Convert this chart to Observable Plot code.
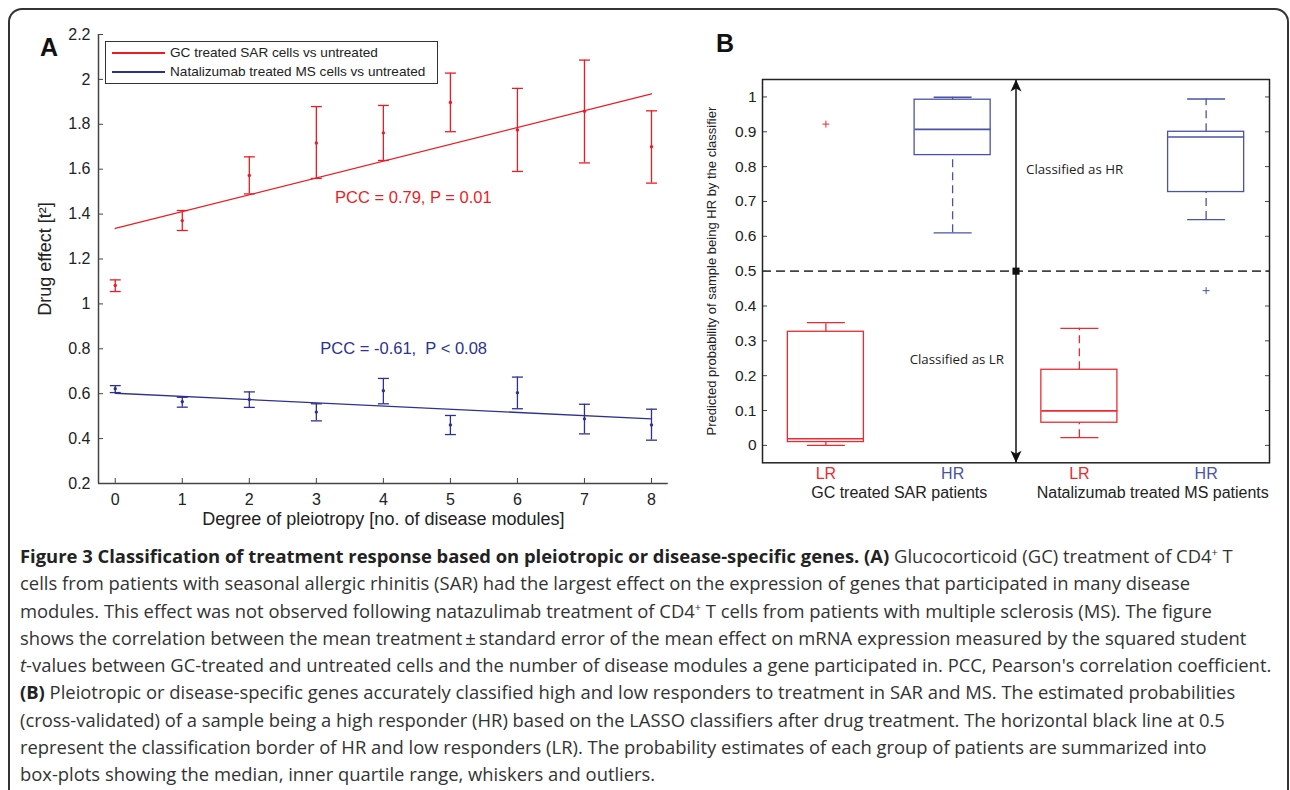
<!DOCTYPE html>
<html><head><meta charset="utf-8">
<script src="https://cdn.jsdelivr.net/npm/d3@7"></script>
<script src="https://cdn.jsdelivr.net/npm/@observablehq/plot@0.6"></script>
<style>
html,body{margin:0;padding:0;background:#fff;width:1290px;height:790px;overflow:hidden;position:relative;}
#frame{position:absolute;left:8px;top:8px;width:1281px;height:900px;border:2px solid #333;border-radius:14px;box-sizing:border-box;z-index:10;pointer-events:none;}
#panelA{position:absolute;left:0;top:0;}
#panelB{position:absolute;left:690px;top:0;}
.plabel{position:absolute;font-family:"Liberation Sans",Arial,sans-serif;font-weight:bold;font-size:25px;color:#111;line-height:1;}
#legend{position:absolute;left:105px;top:41px;width:333px;height:43px;border:1.5px solid #333;background:#fff;box-sizing:border-box;font-family:"Liberation Sans",Arial,sans-serif;font-size:13.6px;color:#222;z-index:5;}
#legend .row{position:absolute;left:0;height:18px;line-height:18px;width:100%;}
#legend .sw{position:absolute;left:6px;top:8px;width:53px;height:2.2px;}
#legend .tx{position:absolute;left:64px;top:0;white-space:nowrap;}
#caption{position:absolute;left:20px;top:542px;font-family:"Open Sans",Lato,sans-serif;font-size:18.4px;line-height:27.3px;color:#333;white-space:nowrap;}
#caption b{color:#222;}
#caption sup{font-size:11px;line-height:0;vertical-align:7px;}
</style></head>
<body>
<div id="frame"></div>
<div id="panelA"></div>
<div id="panelB"></div>
<div class="plabel" style="left:40px;top:35px;">A</div>
<div class="plabel" style="left:716px;top:31px;">B</div>
<div id="legend"></div>
<div id="caption"></div>
<script>
// ---------- Panel A data ----------
const degrees = [0, 1, 2, 3, 4, 5, 6, 7, 8];
const gcMean = [1.082, 1.371, 1.572, 1.717, 1.762, 1.897, 1.775, 1.858, 1.700];
const gcLow  = [1.055, 1.327, 1.490, 1.559, 1.639, 1.767, 1.590, 1.628, 1.538];
const gcHigh = [1.107, 1.416, 1.655, 1.879, 1.884, 2.028, 1.960, 2.086, 1.860];
const natMean = [0.622, 0.564, 0.574, 0.518, 0.613, 0.461, 0.604, 0.488, 0.461];
const natLow  = [0.605, 0.540, 0.539, 0.479, 0.555, 0.418, 0.533, 0.421, 0.393];
const natHigh = [0.636, 0.584, 0.608, 0.555, 0.668, 0.503, 0.674, 0.553, 0.531];
const fitX = [0, 8];
const gcFit = [1.336, 1.936];
const natFit = [0.602, 0.488];
const yTicksA = [0.2, 0.4, 0.6, 0.8, 1, 1.2, 1.4, 1.6, 1.8, 2, 2.2];
const seriesNames = ["GC treated SAR cells vs untreated", "Natalizumab treated MS cells vs untreated"];
const pccLabels = ["PCC = 0.79, P = 0.01", "PCC = -0.61,  P < 0.08"];
const pccX = [3.28, 3.06];
const pccY = [1.474, 0.80];
const xTitleA = "Degree of pleiotropy [no. of disease modules]";
const yTitleA = "Drug effect [t\u00B2]";

// ---------- Panel B data ----------
const boxPos = [1, 2, 3, 4];
const boxLabels = ["LR", "HR", "LR", "HR"];
const boxQ1 = [0.0095, 0.833, 0.065, 0.727];
const boxMed = [0.019, 0.907, 0.099, 0.885];
const boxQ3 = [0.326, 0.992, 0.217, 0.900];
const whiskLo = [0.000, 0.610, 0.022, 0.648];
const whiskHi = [0.352, 0.999, 0.336, 0.994];
const outlierPos = [1, 4];
const outlierVal = [0.922, 0.444];
const groupNames = ["GC treated SAR patients", "Natalizumab treated MS patients"];
const groupCenter = [1.5, 3.5];
const yTicksB = [0, 0.1, 0.2, 0.3, 0.4, 0.5, 0.6, 0.7, 0.8, 0.9, 1];
const threshold = 0.5;
const borderPos = 2.5;
const classLabels = ["Classified as HR", "Classified as LR"];
const classY = [0.791, 0.246];
const yTitleB = "Predicted probability of sample being HR by the classifier";

const RED = "#ed1c24", BLUE = "#2e3192";
const RED_B = "#ee2a30", BLUE_B = "#4a53a6";
const boxColor = boxLabels.map(l => l === "LR" ? RED_B : BLUE_B);
const outlierColor = [RED_B, BLUE_B];

// ---------- build tables ----------
const gcData = degrees.map((x, i) => ({x, m: gcMean[i], lo: gcLow[i], hi: gcHigh[i]}));
const natData = degrees.map((x, i) => ({x, m: natMean[i], lo: natLow[i], hi: natHigh[i]}));
const gcFitData = fitX.map((x, i) => ({x, y: gcFit[i]}));
const natFitData = fitX.map((x, i) => ({x, y: natFit[i]}));
const pccData = pccLabels.map((t, i) => ({t, x: pccX[i], y: pccY[i], c: i === 0 ? RED : BLUE}));

const capSym = {draw(ctx) { ctx.moveTo(-5.5, 0); ctx.lineTo(5.5, 0); }};
const plusSym = {draw(ctx) { ctx.moveTo(-3.5, 0); ctx.lineTo(3.5, 0); ctx.moveTo(0, -3.5); ctx.lineTo(0, 3.5); }};
const headUp = {draw(ctx) { ctx.moveTo(0, 0); ctx.lineTo(5.5, 12); ctx.lineTo(0, 9); ctx.lineTo(-5.5, 12); ctx.closePath(); }};
const headDown = {draw(ctx) { ctx.moveTo(0, 0); ctx.lineTo(5.5, -12); ctx.lineTo(0, -9); ctx.lineTo(-5.5, -12); ctx.closePath(); }};

function errMarks(data, color) {
  return [
    Plot.ruleX(data, {x: "x", y1: "lo", y2: "hi", stroke: color, strokeWidth: 1.3}),
    Plot.dot(data, {x: "x", y: "lo", symbol: capSym, stroke: color, fill: "none", strokeWidth: 1.3}),
    Plot.dot(data, {x: "x", y: "hi", symbol: capSym, stroke: color, fill: "none", strokeWidth: 1.3}),
    Plot.dot(data, {x: "x", y: "m", r: 1.7, fill: color, stroke: "none"})
  ];
}

const plotA = Plot.plot({
  width: 690, height: 545,
  marginLeft: 98, marginRight: 22.25, marginTop: 34, marginBottom: 62,
  style: {fontFamily: "'Liberation Sans', Arial, sans-serif", fontSize: "16px", color: "#222", background: "transparent"},
  x: {domain: [-0.25, 8.25], label: null},
  y: {domain: [0.2, 2.2], label: null},
  marks: [
    Plot.ruleX([-0.25], {stroke: "#444", strokeWidth: 1.5}),
    Plot.ruleY([0.2], {stroke: "#444", strokeWidth: 1.5}),
    Plot.axisX({ticks: degrees, tickFormat: d3.format("d"), tickSize: -5, tickPadding: 15, label: null, stroke: "#444"}),
    Plot.axisY({ticks: yTicksA, tickFormat: d3.format("~g"), tickSize: -5, tickPadding: 13, label: null, stroke: "#444"}),
    Plot.line(gcFitData, {x: "x", y: "y", stroke: RED, strokeWidth: 1.3}),
    Plot.line(natFitData, {x: "x", y: "y", stroke: BLUE, strokeWidth: 1.3}),
    ...errMarks(gcData, RED),
    ...errMarks(natData, BLUE),
    Plot.text(pccData, {x: "x", y: "y", text: "t", fill: "c", textAnchor: "start", fontSize: 16.5}),
    Plot.text([xTitleA], {frameAnchor: "bottom", dy: 41, fontSize: 18, fill: "#222"}),
    Plot.text([yTitleA], {frameAnchor: "left", textAnchor: "middle", dx: -53, rotate: -90, fontSize: 18, fill: "#222"})
  ]
});
document.getElementById("panelA").appendChild(plotA);

// ---------- Panel B ----------
const boxes = boxPos.map((p, i) => ({p, label: boxLabels[i], q1: boxQ1[i], med: boxMed[i], q3: boxQ3[i], lo: whiskLo[i], hi: whiskHi[i], c: boxColor[i]}));
const outliers = outlierPos.map((p, i) => ({p, v: outlierVal[i], c: outlierColor[i]}));
const groups = groupNames.map((g, i) => ({g, x: groupCenter[i]}));

const plotB = Plot.plot({
  width: 600, height: 545,
  marginLeft: 72, marginRight: 21, marginTop: 79, marginBottom: 82.7,
  style: {fontFamily: "'Liberation Sans', Arial, sans-serif", fontSize: "15.5px", color: "#222", background: "transparent"},
  x: {domain: [0.5, 4.5], axis: null, label: null},
  y: {domain: [-0.05, 1.05], label: null},
  marks: [
    Plot.axisY({ticks: yTicksB, tickFormat: d3.format("~g"), tickSize: -5, tickPadding: 11, label: null, stroke: "#444"}),
    Plot.axisY({anchor: "right", ticks: yTicksB, tickFormat: () => "", tickSize: -5, tickPadding: 0, label: null, stroke: "#444"}),
    Plot.ruleY([threshold], {stroke: "#444", strokeWidth: 1.8, strokeDasharray: "9,5"}),
    Plot.ruleX([borderPos], {stroke: "#111", strokeWidth: 1.5}),
    Plot.dot([{x: borderPos, y: 1.05}], {x: "x", y: "y", symbol: headUp, fill: "#111", stroke: "none"}),
    Plot.dot([{x: borderPos, y: -0.05}], {x: "x", y: "y", symbol: headDown, fill: "#111", stroke: "none"}),
    Plot.dot([{x: borderPos, y: threshold}], {x: "x", y: "y", symbol: "square", r: 4, fill: "#111"}),
    // whiskers (dashed)
    Plot.ruleX(boxes, {x: "p", y1: "q3", y2: "hi", stroke: "c", strokeWidth: 1.3, strokeDasharray: "8,5"}),
    Plot.ruleX(boxes, {x: "p", y1: "lo", y2: "q1", stroke: "c", strokeWidth: 1.3, strokeDasharray: "8,5"}),
    // whisker caps
    Plot.link(boxes, {x1: d => d.p - 0.15, x2: d => d.p + 0.15, y1: "hi", y2: "hi", stroke: "c", strokeWidth: 1.3}),
    Plot.link(boxes, {x1: d => d.p - 0.15, x2: d => d.p + 0.15, y1: "lo", y2: "lo", stroke: "c", strokeWidth: 1.3}),
    // boxes
    Plot.rect(boxes, {x1: d => d.p - 0.3, x2: d => d.p + 0.3, y1: "q1", y2: "q3", stroke: "c", fill: "none", strokeWidth: 1.3}),
    Plot.link(boxes, {x1: d => d.p - 0.3, x2: d => d.p + 0.3, y1: "med", y2: "med", stroke: "c", strokeWidth: 1.6}),
    // outliers
    Plot.dot(outliers, {x: "p", y: "v", symbol: plusSym, stroke: "c", fill: "none", strokeWidth: 1}),
    Plot.frame({stroke: "#222", strokeWidth: 1.5}),
    // annotations
    Plot.text([classLabels[0]], {x: borderPos, y: classY[0], textAnchor: "start", dx: 10, fontFamily: "'Open Sans', sans-serif", fontSize: 13.3, fill: "#222"}),
    Plot.text([classLabels[1]], {x: borderPos, y: classY[1], textAnchor: "end", dx: -12, fontFamily: "'Open Sans', sans-serif", fontSize: 13.3, fill: "#222"}),
    // category labels
    Plot.text(boxes, {x: "p", text: "label", fill: "c", frameAnchor: "bottom", dy: 16, fontSize: 16}),
    Plot.text(groups, {x: "x", text: "g", frameAnchor: "bottom", dy: 35.5, dx: 10, fontSize: 16, fill: "#222"}),
    Plot.text([yTitleB], {frameAnchor: "left", textAnchor: "middle", dx: -51, rotate: -90, fontSize: 13, fill: "#222"})
  ]
});
document.getElementById("panelB").appendChild(plotB);

// ---------- Legend ----------
const legendColors = [RED, BLUE];
const legend = document.getElementById("legend");
seriesNames.forEach((name, i) => {
  const row = document.createElement("div");
  row.className = "row";
  row.style.top = (i === 0 ? 2 : 21) + "px";
  const sw = document.createElement("div");
  sw.className = "sw";
  sw.style.background = legendColors[i];
  const tx = document.createElement("div");
  tx.className = "tx";
  tx.textContent = name;
  row.appendChild(sw); row.appendChild(tx);
  legend.appendChild(row);
});

// ---------- Caption ----------
const captionLines = [
  "<b>Figure 3 Classification of treatment response based on pleiotropic or disease-specific genes. (A)</b> Glucocorticoid (GC) treatment of CD4<sup>+</sup> T",
  "cells from patients with seasonal allergic rhinitis (SAR) had the largest effect on the expression of genes that participated in many disease",
  "modules. This effect was not observed following natazulimab treatment of CD4<sup>+</sup> T cells from patients with multiple sclerosis (MS). The figure",
  "shows the correlation between the mean treatment\u2009\u00B1\u2009standard error of the mean effect on mRNA expression measured by the squared student",
  "<i>t</i>-values between GC-treated and untreated cells and the number of disease modules a gene participated in. PCC, Pearson's correlation coefficient.",
  "<b>(B)</b> Pleiotropic or disease-specific genes accurately classified high and low responders to treatment in SAR and MS. The estimated probabilities",
  "(cross-validated) of a sample being a high responder (HR) based on the LASSO classifiers after drug treatment. The horizontal black line at 0.5",
  "represent the classification border of HR and low responders (LR). The probability estimates of each group of patients are summarized into",
  "box-plots showing the median, inner quartile range, whiskers and outliers."
];
document.getElementById("caption").innerHTML = captionLines.map(l => "<div>" + l + "</div>").join("");
</script>
</body></html>
